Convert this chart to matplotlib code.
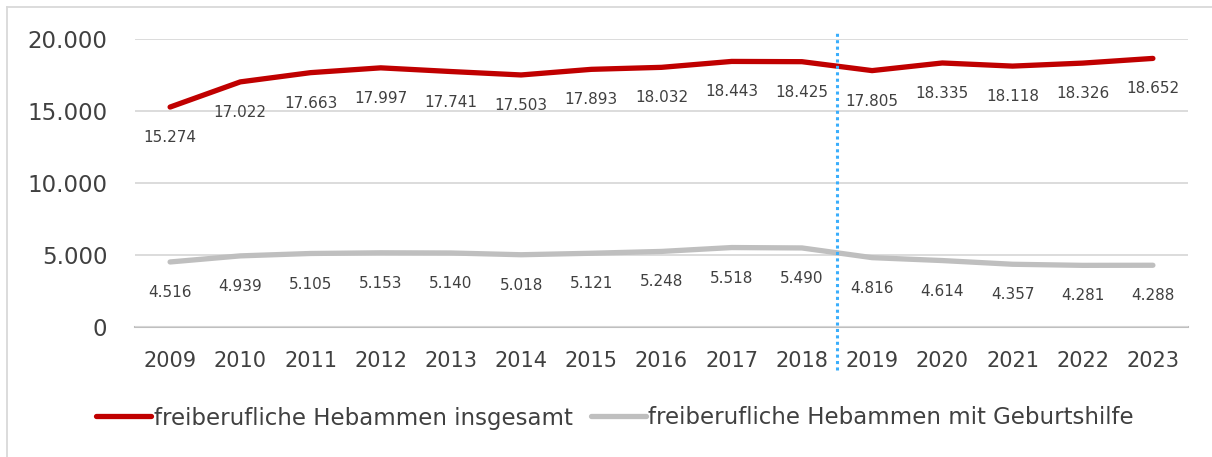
import matplotlib.pyplot as plt
from matplotlib.lines import Line2D
from matplotlib.ticker import FuncFormatter

years = [str(y) for y in range(2009, 2024)]
insgesamt = [15274, 17022, 17663, 17997, 17741, 17503, 17893, 18032, 18443, 18425,
             17805, 18335, 18118, 18326, 18652]
geburtshilfe = [4516, 4939, 5105, 5153, 5140, 5018, 5121, 5248, 5518, 5490,
                4816, 4614, 4357, 4281, 4288]
series_names = ["freiberufliche Hebammen insgesamt",
                "freiberufliche Hebammen mit Geburtshilfe"]
yticks = [0, 5000, 10000, 15000, 20000]


def de_fmt(v):
    # German thousands separator
    return f"{int(round(v)):,}".replace(",", ".")


plt.rcParams['font.family'] = ['DejaVu Sans']
text_col = '#404040'

W, H = 1212, 457
fig = plt.figure(figsize=(W / 100, H / 100), dpi=100)
ax = fig.add_axes([135 / W, 1 - 327 / H, (1188 - 135) / W, (327 - 39) / H])

x = list(range(len(years)))
ax.plot(x, insgesamt, color='#c00000', lw=3.8, solid_capstyle='round',
        solid_joinstyle='round', zorder=3)
ax.plot(x, geburtshilfe, color='#bfbfbf', lw=3.8, solid_capstyle='round',
        solid_joinstyle='round', zorder=3)

for xi, v in zip(x, insgesamt):
    ax.annotate(de_fmt(v), (xi, v), xytext=(0, -22), textcoords='offset points',
                ha='center', va='center', fontsize=11, color=text_col)
for xi, v in zip(x, geburtshilfe):
    ax.annotate(de_fmt(v), (xi, v), xytext=(0, -22), textcoords='offset points',
                ha='center', va='center', fontsize=11, color=text_col)

ax.set_xlim(-0.5, len(years) - 0.5)
ax.set_ylim(0, 20000)
ax.set_yticks(yticks)
ax.yaxis.set_major_formatter(FuncFormatter(lambda v, p: de_fmt(v)))
ax.set_xticks(x)
ax.set_xticklabels(years)
ax.tick_params(axis='both', length=0, colors=text_col)
ax.tick_params(axis='y', labelsize=16.5, pad=20)
ax.tick_params(axis='x', labelsize=15, pad=17)
ax.grid(axis='y', color='#d9d9d9', lw=1.3, zorder=0)
for s in ['left', 'right', 'top']:
    ax.spines[s].set_visible(False)
ax.spines['bottom'].set_color('#bfbfbf')
ax.spines['bottom'].set_linewidth(1.5)
ax.spines['bottom'].set_zorder(1)

# dotted break line between 2018 and 2019
ax.axvline(9.5, ymin=-0.15, ymax=1.025, color='#3aaefc', lw=2.2,
           ls=(0, (1, 1.1)), clip_on=False, zorder=4)

handles = [Line2D([], [], color='#c00000', lw=3.8, solid_capstyle='round'),
           Line2D([], [], color='#bfbfbf', lw=3.8, solid_capstyle='round')]
leg = fig.legend(handles, series_names, loc='center', ncol=2,
                 bbox_to_anchor=(615 / W, 1 - 418 / H), frameon=False,
                 fontsize=16.5, handlelength=2.4, handletextpad=0.1,
                 columnspacing=0.8)
for t in leg.get_texts():
    t.set_color(text_col)

# outer chart border (top and left visible)
fig.add_artist(Line2D([7 / W, 7 / W], [0, 1 - 7 / H], color='#d9d9d9', lw=1.3,
                      transform=fig.transFigure))
fig.add_artist(Line2D([7 / W, 1], [1 - 7 / H, 1 - 7 / H], color='#d9d9d9', lw=1.3,
                      transform=fig.transFigure))

fig.savefig('out.png', dpi=100)
